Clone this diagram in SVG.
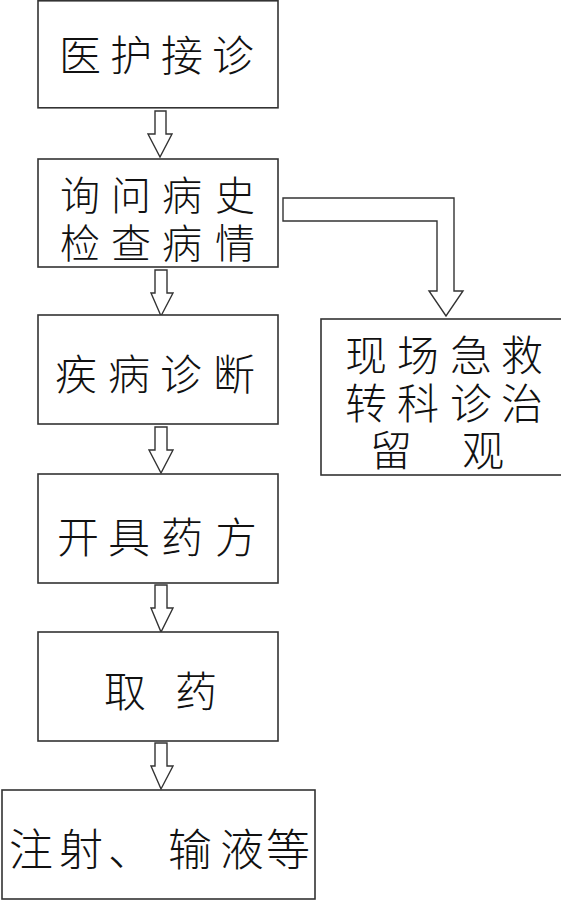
<svg xmlns="http://www.w3.org/2000/svg" width="561" height="900" viewBox="0 0 561 900">
<style>
.box{fill:#fff;stroke:#333;stroke-width:1.6}
.arr{fill:#fff;stroke:#333;stroke-width:1.4;stroke-linejoin:miter}
.t{font-family:"Noto Sans CJK SC","Noto Sans CJK TC",sans-serif;font-weight:300;font-size:42px;fill:#111;text-anchor:middle;dominant-baseline:central}
.t2{font-size:40px}
.t3{font-size:44px}
</style>
<rect width="561" height="900" fill="#fff"/>
<g id="connectors">
<polygon class="arr" points="155,111 166,111 166,134 172,134 160,157 148,134 155,134"/>
<polygon class="arr" points="155,270 167,270 167,293 173,293 161,316 151,293 155,293"/>
<polygon class="arr" points="155,427 167,427 167,450 173,450 161,473 149,450 155,450"/>
<polygon class="arr" points="155,585 167,585 167,608 173,608 161,632 151,608 155,608"/>
<polygon class="arr" points="155,743 167,743 167,766 173,766 161,789 151,766 155,766"/>
<polygon class="arr" points="283,198 454,198 454,291 463,291 446,316 429,291 437,291 437,221 283,221"/>
</g>
<g id="n1">
<rect class="box" x="38" y="0.8" width="240" height="107"/>
<text class="t" y="52" x="80 131 182 233">医护接诊</text>
</g>
<g id="n2">
<rect class="box" x="38" y="159" width="240" height="108"/>
<text class="t t2" y="193" x="80 131 182 235">询问病史</text>
<text class="t t2" y="241" x="80 131 182 235">检查病情</text>
</g>
<g id="n3">
<rect class="box" x="38" y="315" width="240" height="109"/>
<text class="t" y="371" x="76 129 181 234">疾病诊断</text>
</g>
<g id="n4">
<rect class="box" x="38" y="474" width="240" height="109"/>
<text class="t" y="534" x="78 129 182 236">开具药方</text>
</g>
<g id="n5">
<rect class="box" x="38" y="632" width="240" height="109"/>
<text class="t" y="688" x="125 196">取药</text>
</g>
<g id="n6">
<rect class="box" x="2" y="790" width="313" height="109"/>
<text class="t t3" y="847" x="31 81 130 190 242 288">注射、输液等</text>
</g>
<g id="n7">
<rect class="box" x="321" y="319" width="242" height="156"/>
<text class="t" y="352" x="366 418 471 522">现场急救</text>
<text class="t" y="400" x="366 418 471 522">转科诊治</text>
<text class="t" y="447" x="391 483">留观</text>
</g>
</svg>
